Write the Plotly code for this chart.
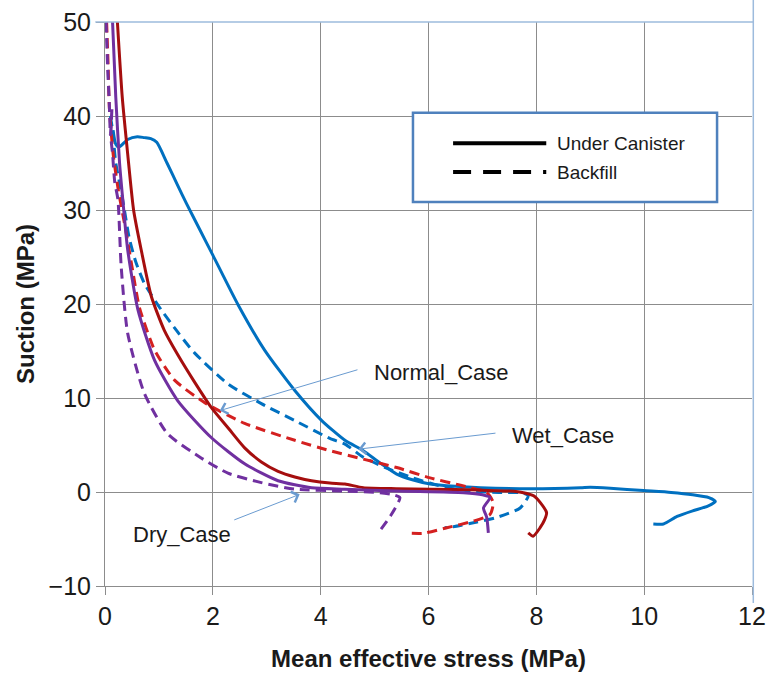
import plotly.graph_objects as go

# ---------------- data ----------------
normal_canister_x = [0.15, 0.2, 0.26, 0.42, 0.6, 0.73, 0.85, 0.96, 1.15, 1.35, 1.51, 1.75, 2.0, 2.47, 2.96,
                     3.52, 4.02, 4.45, 4.79, 5.1, 5.41, 5.7, 6.03, 6.5, 6.96, 7.89, 8.82, 9.0, 9.37, 9.99,
                     10.5, 10.9, 11.2, 11.32, 11.18, 10.9, 10.61, 10.36, 10.17]
normal_canister_y = [38.5, 37.0, 36.7, 37.5, 37.8, 37.7, 37.6, 37.2, 35.0, 32.6, 30.7, 28.0, 25.2, 19.9, 15.1,
                     10.8, 7.6, 5.5, 4.4, 3.1, 1.9, 1.3, 0.85, 0.6, 0.46, 0.35, 0.45, 0.5, 0.4, 0.15,
                     -0.05, -0.3, -0.6, -1.0, -1.5, -2.0, -2.6, -3.4, -3.4]

normal_backfill_x = [0.1, 0.14, 0.2, 0.3, 0.36, 0.45, 0.57, 0.73, 1.04, 1.35, 1.66, 2.28, 2.9, 3.52, 4.17,
                     4.45, 4.79, 5.2, 5.71, 6.34, 6.8, 7.3, 7.75, 7.85, 7.7, 7.27, 6.9, 6.46, 6.3]
normal_backfill_y = [40.0, 38.5, 35.0, 32.0, 30.0, 27.0, 24.5, 22.2, 19.4, 17.0, 14.8, 11.5, 9.4, 7.6, 5.7,
                     5.1, 3.7, 2.6, 1.5, 0.46, 0.1, -0.05, -0.1, -0.4, -1.7, -2.7, -3.2, -3.7, -3.8]

wet_canister_x = [0.23, 0.32, 0.42, 0.53, 0.67, 0.86, 1.1, 1.35, 1.65, 1.97, 2.3, 2.59, 2.9, 3.21, 3.52,
                  3.83, 4.17, 4.45, 4.79, 5.4, 6.03, 6.96, 7.5, 7.76, 7.95, 8.07, 8.19, 8.15, 8.07, 7.94, 7.85]
wet_canister_y = [50.0, 42.0, 36.0, 30.0, 25.8, 20.8, 17.2, 14.6, 11.8, 9.0, 6.7, 4.7, 3.2, 2.2, 1.6,
                  1.2, 0.95, 0.85, 0.46, 0.35, 0.3, 0.2, 0.1, -0.07, -0.4, -1.1, -2.2, -3.0, -3.8, -4.7, -4.35]

wet_backfill_x = [0.03, 0.06, 0.08, 0.15, 0.25, 0.38, 0.5, 0.64, 0.92, 1.29, 1.85, 2.59, 3.52, 4.17, 4.79,
                  5.41, 6.03, 6.65, 7.08, 7.2, 7.14, 6.83, 6.34, 5.9, 5.69]
wet_backfill_y = [50.0, 45.0, 41.0, 36.0, 32.0, 28.0, 24.0, 19.6, 15.1, 11.9, 9.5, 7.3, 5.5, 4.4, 3.5,
                  2.6, 1.5, 0.64, -0.07, -1.1, -2.4, -3.1, -3.8, -4.4, -4.4]

dry_canister_x = [0.14, 0.2, 0.27, 0.33, 0.42, 0.61, 0.92, 1.35, 1.97, 2.59, 3.21, 3.83, 4.45, 5.41, 6.65,
                  7.0, 7.14, 7.02, 7.08, 7.11]
dry_canister_y = [50.0, 42.0, 35.0, 31.1, 25.8, 19.4, 14.0, 9.7, 5.8, 3.0, 1.2, 0.45, 0.3, 0.1, -0.07,
                  -0.3, -0.6, -1.7, -2.7, -4.35]

dry_backfill_x = [0.02, 0.05, 0.08, 0.1, 0.13, 0.11, 0.14, 0.18, 0.24, 0.30, 0.42, 0.73, 1.16, 1.79, 2.28,
                  2.9, 3.52, 4.45, 5.1, 5.35, 5.47, 5.3, 5.1]
dry_backfill_y = [50.0, 45.0, 41.3, 38.0, 41.0, 37.7, 36.0, 33.0, 31.1, 24.0, 16.9, 10.5, 6.2, 3.6, 2.0,
                  1.0, 0.3, 0.1, -0.07, -0.3, -0.6, -2.5, -4.1]

x_ticks = [0, 2, 4, 6, 8, 10, 12]
y_ticks = [-10, 0, 10, 20, 30, 40, 50]

case_labels = ["Normal_Case", "Wet_Case", "Dry_Case"]
label_pos_x = [4.95, 7.52, 0.49]
label_pos_y = [12.76, 5.99, -4.5]
arrow_head_x = [2.13, 4.70, 3.61]
arrow_head_y = [8.66, 4.56, -0.25]
arrow_tail_x = [4.71, 7.27, 2.37]
arrow_tail_y = [13.05, 6.28, -3.03]

legend_labels = ["Under Canister", "Backfill"]

# ---------------- styles ----------------
BLUE = "#0070C0"
DARKRED = "#A50E0E"
RED = "#D42020"
PURPLE = "#7030A0"
FONT = "Liberation Sans"
GRID = "#8C8C8C"

series = [
    (normal_canister_x, normal_canister_y, BLUE, "solid"),
    (normal_backfill_x, normal_backfill_y, BLUE, "10px,6px"),
    (wet_backfill_x, wet_backfill_y, RED, "10px,6px"),
    (wet_canister_x, wet_canister_y, DARKRED, "solid"),
    (dry_backfill_x, dry_backfill_y, PURPLE, "10px,6px"),
    (dry_canister_x, dry_canister_y, PURPLE, "solid"),
]

fig = go.Figure()
for xs, ys, col, dash in series:
    fig.add_trace(go.Scatter(x=xs, y=ys, mode="lines", showlegend=False,
                             line=dict(color=col, width=3, dash=dash, shape="spline", smoothing=0.6),
                             hoverinfo="skip"))

annotations = []
for t, tx, ty, hx, hy, ax_, ay_ in zip(case_labels, label_pos_x, label_pos_y,
                                         arrow_head_x, arrow_head_y, arrow_tail_x, arrow_tail_y):
    annotations.append(dict(x=tx, y=ty, xref="x", yref="y", text=t, showarrow=False,
                            xanchor="left", yanchor="middle",
                            font=dict(family=FONT, size=22, color="#1a1a1a")))
    annotations.append(dict(x=hx, y=hy, xref="x", yref="y", ax=ax_, ay=ay_, axref="x", ayref="y",
                            text="", showarrow=True, arrowhead=4, arrowsize=2.2, arrowwidth=1,
                            arrowcolor="#6A9BD0", standoff=0, startstandoff=0))

# legend text
annotations.append(dict(x=0.695, y=0.785, xref="paper", yref="paper", text=legend_labels[0],
                        showarrow=False, xanchor="left", yanchor="middle",
                        font=dict(family=FONT, size=19, color="#1a1a1a")))
annotations.append(dict(x=0.695, y=0.734, xref="paper", yref="paper", text=legend_labels[1],
                        showarrow=False, xanchor="left", yanchor="middle",
                        font=dict(family=FONT, size=19, color="#1a1a1a")))

shapes = [
    # outer light-blue frame (top and right)
    dict(type="line", xref="paper", yref="paper", x0=-0.015, x1=1.002, y0=1, y1=1,
         line=dict(color="#9DBBDD", width=1.5)),
    dict(type="line", xref="paper", yref="paper", x0=1.002, x1=1.002, y0=-0.03, y1=1.04,
         line=dict(color="#9DBBDD", width=1.5)),
    # legend box
    dict(type="rect", xref="paper", yref="paper", x0=0.476, x1=0.946, y0=0.681, y1=0.839,
         line=dict(color="#4F81BD", width=2.5), fillcolor="white", layer="above"),
    dict(type="line", xref="paper", yref="paper", x0=0.538, x1=0.682, y0=0.785, y1=0.785,
         line=dict(color="black", width=4)),
    dict(type="line", xref="paper", yref="paper", x0=0.538, x1=0.682, y0=0.734, y1=0.734,
         line=dict(color="black", width=4, dash="18px,12px")),
]

fig.update_layout(
    width=769, height=674,
    margin=dict(l=105, r=17, t=22, b=88),
    paper_bgcolor="white", plot_bgcolor="white",
    font=dict(family=FONT, color="#1a1a1a"),
    showlegend=False,
    annotations=annotations,
    shapes=shapes,
    xaxis=dict(range=[0, 12], tickvals=x_ticks, showgrid=True, gridcolor=GRID, gridwidth=1,
               showline=True, linecolor=GRID, linewidth=1, ticks="outside", ticklen=8,
               tickcolor=GRID, zeroline=False, automargin=False,
               tickfont=dict(size=25, family=FONT, color="#1a1a1a"),
               title=dict(text="<b>Mean effective stress (MPa)</b>", standoff=21,
                          font=dict(size=24, family=FONT, color="#1a1a1a"))),
    yaxis=dict(range=[-10, 50], tickvals=y_ticks, showgrid=True, gridcolor=GRID, gridwidth=1,
               showline=True, linecolor=GRID, linewidth=1, ticks="outside", ticklen=8,
               tickcolor=GRID, zeroline=False, automargin=False,
               tickfont=dict(size=25, family=FONT, color="#1a1a1a"),
               title=dict(text="<b>Suction (MPa)</b>", standoff=7,
                          font=dict(size=24, family=FONT, color="#1a1a1a"))),
)

fig.write_html("out.html")
